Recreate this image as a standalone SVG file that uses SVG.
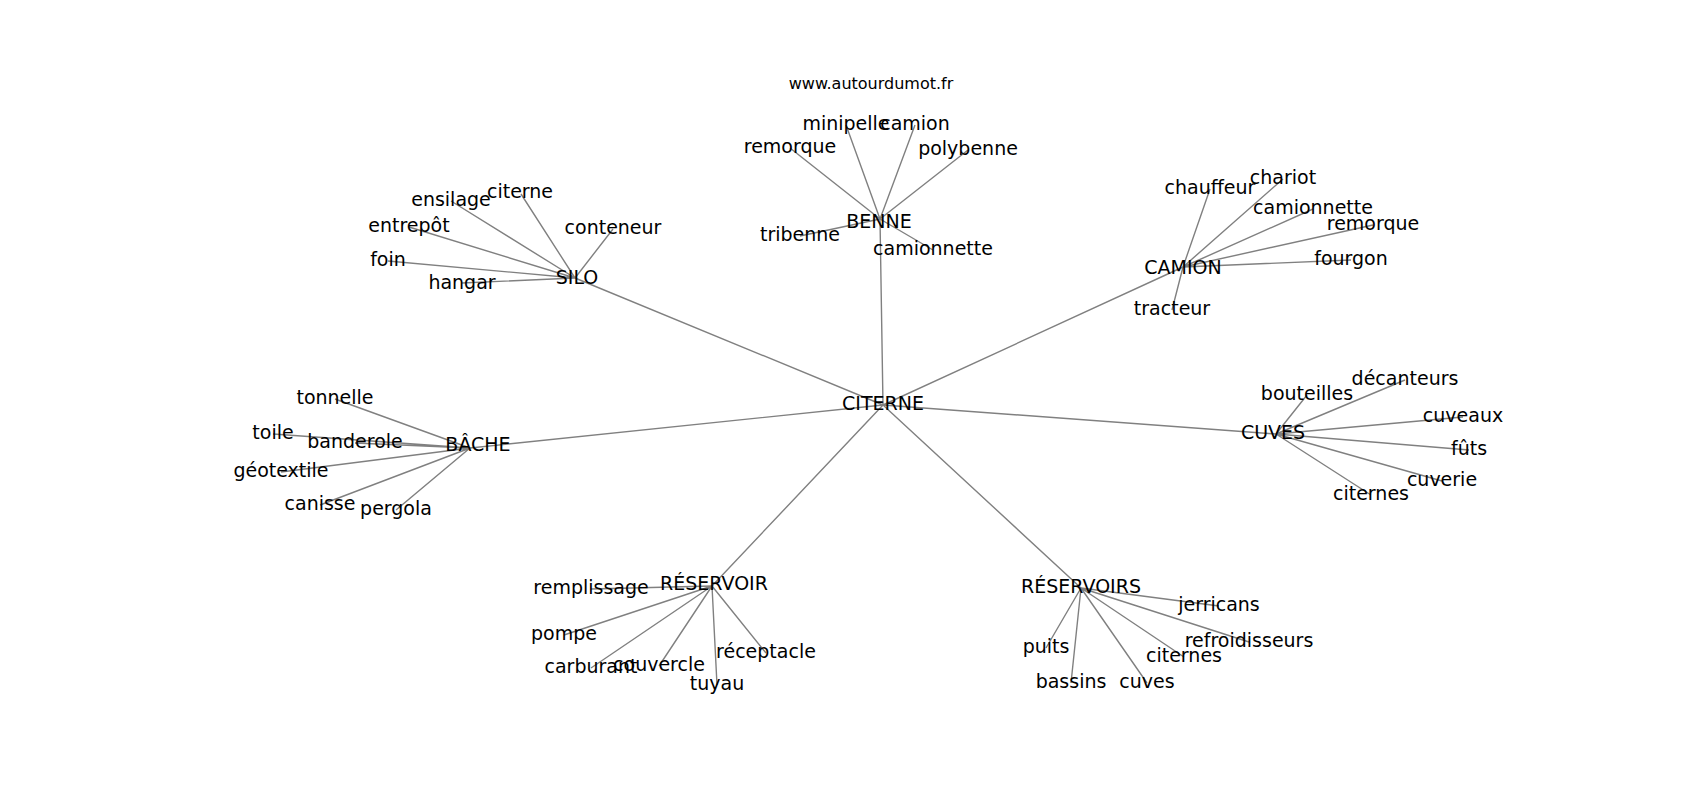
<svg xmlns="http://www.w3.org/2000/svg" width="1700" height="800" viewBox="0 0 1700 800">
<style>
.e{stroke:#808080;stroke-width:1.4;fill:none}
text{font-family:"DejaVu Sans",sans-serif;font-size:19px;fill:#000;text-anchor:middle}
.t{font-size:16px}
</style>
<rect width="1700" height="800" fill="#fff"/>
<g id="connectors" class="e">
<path d="M883 405L575 278M883 405L880 219M883 405L1183 267M883 405L470 448M883 405L1276 434M883 405L712 586M883 405L1081 588"/>
<path d="M575 278L521 194M575 278L451 201M575 278L409 227M575 278L388 261M575 278L462 283M575 278L613 229"/>
<path d="M880 219L846 125M880 219L915 125M880 219L790 148M880 219L968 150M880 219L800 236M880 219L933 250"/>
<path d="M1183 267L1210 189M1183 267L1283 179M1183 267L1313 209M1183 267L1373 225M1183 267L1351 260M1183 267L1172 310"/>
<path d="M470 448L335 399M470 448L273 434M470 448L355 443M470 448L281 472M470 448L320 505M470 448L396 510"/>
<path d="M1276 434L1307 395M1276 434L1405 380M1276 434L1463 417M1276 434L1469 450M1276 434L1442 481M1276 434L1371 495"/>
<path d="M712 586L591 589M712 586L564 635M712 586L591 668M712 586L659 666M712 586L766 653M712 586L717 685"/>
<path d="M1081 588L1219 606M1081 588L1249 642M1081 588L1184 657M1081 588L1046 648M1081 588L1071 683M1081 588L1147 683"/>
</g>
<text class="t" x="871" y="89">www.autourdumot.fr</text>
<g id="n-citerne-hub"><text x="883" y="410">CITERNE</text></g>
<g id="n-silo"><text x="577" y="284">SILO</text></g>
<g id="n-silo-citerne"><text x="520" y="198">citerne</text></g>
<g id="n-ensilage"><text x="451" y="206">ensilage</text></g>
<g id="n-entrepot"><text x="409" y="232">entrepôt</text></g>
<g id="n-foin"><text x="388" y="266">foin</text></g>
<g id="n-hangar"><text x="462" y="289">hangar</text></g>
<g id="n-conteneur"><text x="613" y="234">conteneur</text></g>
<g id="n-benne"><text x="879" y="228">BENNE</text></g>
<g id="n-minipelle"><text x="846" y="130">minipelle</text></g>
<g id="n-benne-camion"><text x="915" y="130">camion</text></g>
<g id="n-benne-remorque"><text x="790" y="153">remorque</text></g>
<g id="n-polybenne"><text x="968" y="155">polybenne</text></g>
<g id="n-tribenne"><text x="800" y="241">tribenne</text></g>
<g id="n-benne-camionnette"><text x="933" y="255">camionnette</text></g>
<g id="n-camion"><text x="1183" y="274">CAMION</text></g>
<g id="n-chauffeur"><text x="1210" y="194">chauffeur</text></g>
<g id="n-chariot"><text x="1283" y="184">chariot</text></g>
<g id="n-camion-camionnette"><text x="1313" y="214">camionnette</text></g>
<g id="n-camion-remorque"><text x="1373" y="230">remorque</text></g>
<g id="n-fourgon"><text x="1351" y="265">fourgon</text></g>
<g id="n-tracteur"><text x="1172" y="315">tracteur</text></g>
<g id="n-bache"><text x="478" y="451">BÂCHE</text></g>
<g id="n-tonnelle"><text x="335" y="404">tonnelle</text></g>
<g id="n-toile"><text x="273" y="439">toile</text></g>
<g id="n-banderole"><text x="355" y="448">banderole</text></g>
<g id="n-geotextile"><text x="281" y="477">géotextile</text></g>
<g id="n-canisse"><text x="320" y="510">canisse</text></g>
<g id="n-pergola"><text x="396" y="515">pergola</text></g>
<g id="n-cuves"><text x="1273" y="439">CUVES</text></g>
<g id="n-bouteilles"><text x="1307" y="400">bouteilles</text></g>
<g id="n-decanteurs"><text x="1405" y="385">décanteurs</text></g>
<g id="n-cuveaux"><text x="1463" y="422">cuveaux</text></g>
<g id="n-futs"><text x="1469" y="455">fûts</text></g>
<g id="n-cuverie"><text x="1442" y="486">cuverie</text></g>
<g id="n-cuves-citernes"><text x="1371" y="500">citernes</text></g>
<g id="n-reservoir"><text x="714" y="590">RÉSERVOIR</text></g>
<g id="n-remplissage"><text x="591" y="594">remplissage</text></g>
<g id="n-pompe"><text x="564" y="640">pompe</text></g>
<g id="n-carburant"><text x="591" y="673">carburant</text></g>
<g id="n-couvercle"><text x="659" y="671">couvercle</text></g>
<g id="n-receptacle"><text x="766" y="658">réceptacle</text></g>
<g id="n-tuyau"><text x="717" y="690">tuyau</text></g>
<g id="n-reservoirs"><text x="1081" y="593">RÉSERVOIRS</text></g>
<g id="n-jerricans"><text x="1219" y="611">jerricans</text></g>
<g id="n-refroidisseurs"><text x="1249" y="647">refroidisseurs</text></g>
<g id="n-reservoirs-citernes"><text x="1184" y="662">citernes</text></g>
<g id="n-puits"><text x="1046" y="653">puits</text></g>
<g id="n-bassins"><text x="1071" y="688">bassins</text></g>
<g id="n-reservoirs-cuves"><text x="1147" y="688">cuves</text></g>
</svg>
